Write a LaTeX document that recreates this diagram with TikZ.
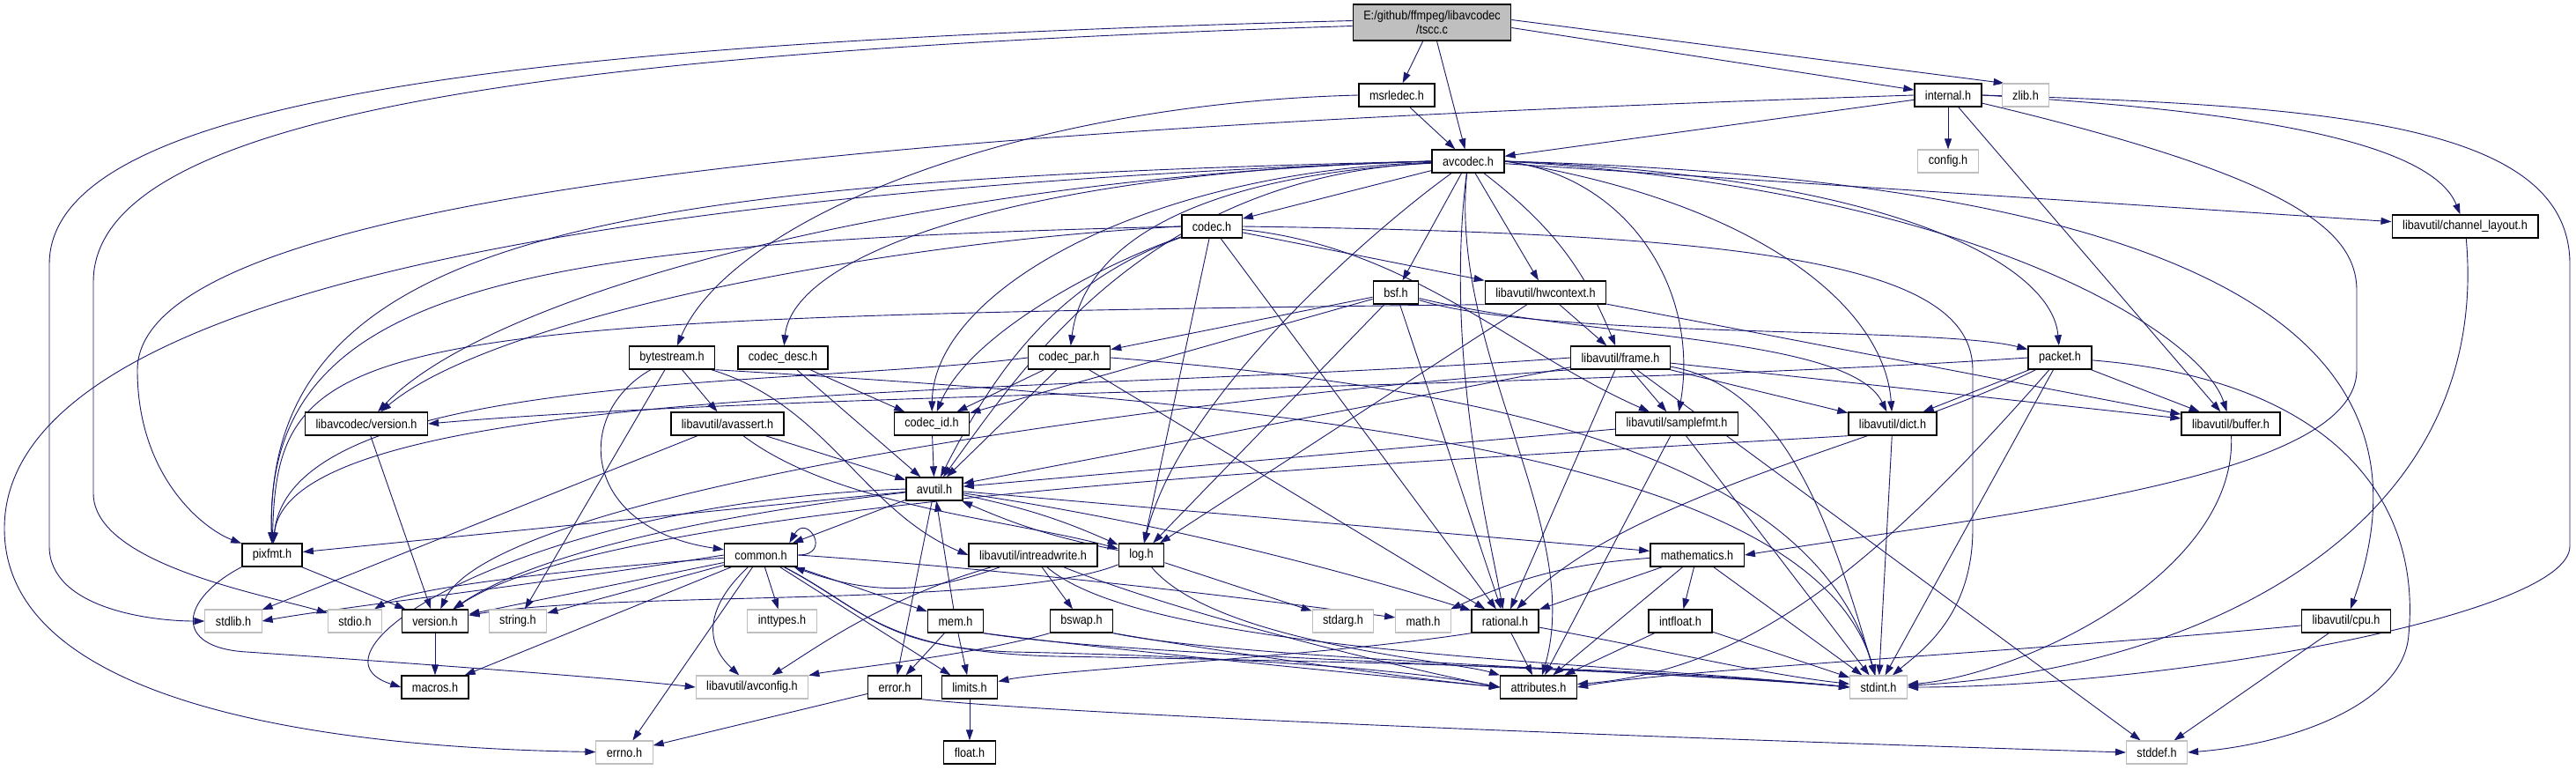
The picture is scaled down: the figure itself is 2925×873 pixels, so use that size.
\documentclass[tikz,border=0pt]{standalone}
\usepackage{fontspec}
\setmainfont{Liberation Sans}[FakeStretch=0.88]
\usetikzlibrary{arrows.meta}
\definecolor{edgeblue}{HTML}{191970}
\definecolor{boxgray}{HTML}{BFBFBF}
\pgfdeclarelayer{bg}
\pgfsetlayers{bg,main}

\begin{document}
\begin{tikzpicture}[
    >={Triangle[length=12pt, width=8pt]},
    x=1pt, y=-1pt,
    filebox/.style={
        draw=black,
        line width=1.4pt,
        fill=white,
        minimum height=26pt,
        inner xsep=12pt,
        inner ysep=0pt,
        font=\fontsize{14.4}{15}\selectfont
    },
    sysbox/.style={filebox, draw=boxgray, line width=1.1pt},
    rootbox/.style={filebox, fill=boxgray, align=center, minimum height=41pt, font=\fontsize{14.4}{16}\selectfont},
    dep/.style={->, draw=edgeblue, line width=0.9pt}
]

% Fitxer arrel
\node[rootbox] (tscc) at (1626,25.5) {E:/github/ffmpeg/libavcodec\\/tscc.c};

% Capçaleres
\node[filebox] (msrledec) at (1586,108) {msrledec.h};
\node[filebox] (internal) at (2212,108) {internal.h};
\node[sysbox] (zlib) at (2300,108) {zlib.h};
\node[filebox] (avcodec) at (1667,183) {avcodec.h};
\node[sysbox] (config) at (2212,183) {config.h};
\node[filebox] (codec) at (1376,257) {codec.h};
\node[filebox] (chlayout) at (2799,257) {libavutil/channel\_layout.h};
\node[filebox] (bsf) at (1585,332) {bsf.h};
\node[filebox] (hwcontext) at (1755,332) {libavutil/hwcontext.h};
\node[filebox] (bytestream) at (763,406) {bytestream.h};
\node[filebox] (codecdesc) at (889,406) {codec\_desc.h};
\node[filebox] (codecpar) at (1214,406) {codec\_par.h};
\node[filebox] (frame) at (1840,406) {libavutil/frame.h};
\node[filebox] (packet) at (2339,406) {packet.h};
\node[filebox] (lavcversion) at (416,481) {libavcodec/version.h};
\node[filebox] (avassert) at (826,481) {libavutil/avassert.h};
\node[filebox] (codecid) at (1058,481) {codec\_id.h};
\node[filebox] (samplefmt) at (1904,481) {libavutil/samplefmt.h};
\node[filebox] (dict) at (2149,481) {libavutil/dict.h};
\node[filebox] (buffer) at (2533,481) {libavutil/buffer.h};
\node[filebox] (avutil) at (1061,555) {avutil.h};
\node[filebox] (pixfmt) at (309,630) {pixfmt.h};
\node[filebox] (common) at (864,630) {common.h};
\node[filebox] (intreadwrite) at (1173,630) {libavutil/intreadwrite.h};
\node[filebox] (log) at (1296,630) {log.h};
\node[filebox] (mathematics) at (1927,630) {mathematics.h};
\node[sysbox] (stdlib) at (265,705) {stdlib.h};
\node[sysbox] (stdio) at (403,705) {stdio.h};
\node[filebox] (version) at (494,705) {version.h};
\node[sysbox] (string) at (588,705) {string.h};
\node[sysbox] (inttypes) at (888,705) {inttypes.h};
\node[filebox] (mem) at (1085,705) {mem.h};
\node[filebox] (bswap) at (1228,705) {bswap.h};
\node[sysbox] (stdarg) at (1525,705) {stdarg.h};
\node[sysbox] (math) at (1616,705) {math.h};
\node[filebox] (rational) at (1709,705) {rational.h};
\node[filebox] (intfloat) at (1908,705) {intfloat.h};
\node[filebox] (cpu) at (2664,705) {libavutil/cpu.h};
\node[filebox] (macros) at (494,780) {macros.h};
\node[sysbox] (avconfig) at (854,780) {libavutil/avconfig.h};
\node[filebox] (error) at (1016,780) {error.h};
\node[filebox] (limits) at (1101,780) {limits.h};
\node[filebox] (attributes) at (1747,780) {attributes.h};
\node[sysbox] (stdint) at (2133,780) {stdint.h};
\node[sysbox] (errno) at (709,854) {errno.h};
\node[filebox] (float) at (1101,854) {float.h};
\node[sysbox] (stddef) at (2449,854) {stddef.h};

\begin{pgfonlayer}{bg}
\fill[white, use as bounding box] (0,0) rectangle (2925,873);

% tscc.c
\draw[dep] ([yshift=2pt]tscc.west) .. controls (600,48) and (56,110) .. (56,300) -- (56,620) .. controls (56,690) and (170,705) .. (stdlib);
\draw[dep] ([yshift=-4pt]tscc.west) .. controls (650,58) and (106,125) .. (106,320) -- (106,560) .. controls (106,640) and (300,675) .. (stdio);
\draw[dep] (tscc) -- (msrledec);
\draw[dep] (tscc) -- (avcodec);
\draw[dep] ([yshift=-6pt]tscc.east) -- (internal);
\draw[dep] ([yshift=3pt]tscc.east) -- ([xshift=3pt]zlib.north west);

% msrledec.h
\draw[dep] (msrledec) -- (avcodec);
\draw[dep] (msrledec.west) .. controls (1150,118) and (830,250) .. (bytestream);

% internal.h
\draw[dep] (internal) -- (avcodec);
\draw[dep] (internal) -- (config);
\draw[dep] (internal.west) .. controls (1200,140) and (156,200) .. (156,420) .. controls (156,540) and (230,600) .. (pixfmt);
\draw[dep] (internal.east) .. controls (2550,125) and (2760,160) .. (chlayout);
\draw[dep] (internal.east) .. controls (2650,120) and (2918,140) .. (2918,300) -- (2918,620) .. controls (2918,700) and (2450,780) .. (stdint.east);
\draw[dep] (internal) -- (buffer);
\draw[dep] (internal) .. controls (2600,200) and (2676,260) .. (2676,330) -- (2676,420) .. controls (2676,540) and (2300,580) .. (mathematics.east);

% avcodec.h
\draw[dep] (avcodec) -- (codec);
\draw[dep] (avcodec) -- (bsf);
\draw[dep] (avcodec) -- (hwcontext);
\draw[dep] (avcodec) to[bend left=15] (frame);
\draw[dep] (avcodec.east) .. controls (2150,200) and (2330,300) .. (packet);
\draw[dep] (avcodec) -- (chlayout);
\draw[dep] (avcodec.east) .. controls (2250,215) and (2500,380) .. (buffer);
\draw[dep] (avcodec.east) .. controls (2500,205) and (2780,380) .. (cpu);
\draw[dep] (avcodec.east) .. controls (2000,230) and (2140,350) .. (dict);
\draw[dep] (avcodec.east) .. controls (1850,200) and (1930,330) .. (samplefmt);
\draw[dep] (avcodec) .. controls (1640,400) and (1690,600) .. (rational);
\draw[dep] (avcodec) .. controls (1645,400) and (1800,600) .. (attributes);
\draw[dep] (avcodec) .. controls (1560,260) and (1340,450) .. (log);
\draw[dep] (avcodec) .. controls (1300,200) and (1160,420) .. (avutil);
\draw[dep] (avcodec.west) .. controls (700,205) and (300,260) .. (pixfmt);
\draw[dep] (avcodec.west) .. controls (700,215) and (5,330) .. (5,600) .. controls (5,820) and (450,850) .. (errno);
\draw[dep] (avcodec) .. controls (1350,200) and (1230,280) .. (codecpar);
\draw[dep] (avcodec) .. controls (1300,195) and (1060,330) .. (codecid);
\draw[dep] (avcodec.west) .. controls (1150,195) and (900,290) .. (codecdesc);
\draw[dep] (avcodec.west) .. controls (1050,200) and (560,330) .. (lavcversion);

% codec.h
\draw[dep] (codec) -- (hwcontext);
\draw[dep] (codec) .. controls (1200,320) and (1130,420) .. (avutil);
\draw[dep] (codec) -- (log);
\draw[dep] (codec.west) .. controls (600,275) and (300,320) .. (pixfmt);
\draw[dep] (codec) -- (rational);
\draw[dep] (codec) .. controls (1600,280) and (1720,400) .. (samplefmt);
\draw[dep] (codec.east) .. controls (2000,265) and (2240,300) .. (2240,420) -- (2240,600) .. controls (2240,700) and (2180,740) .. (stdint);
\draw[dep] (codec) .. controls (1250,300) and (1100,380) .. (codecid);
\draw[dep] (codec.west) .. controls (1000,275) and (560,360) .. (lavcversion);

% bsf.h
\draw[dep] (bsf) .. controls (1800,385) and (2100,380) .. (dict);
\draw[dep] (bsf) -- (log);
\draw[dep] (bsf) -- (rational);
\draw[dep] (bsf) -- (codecid);
\draw[dep] (bsf) -- (codecpar);
\draw[dep] (bsf) .. controls (1750,385) and (2200,370) .. (packet);

% hwcontext.h
\draw[dep] (hwcontext) -- (buffer);
\draw[dep] (hwcontext) -- (frame);
\draw[dep] (hwcontext) -- (log);
\draw[dep] (hwcontext.south west) .. controls (400,360) and (315,380) .. (pixfmt);

% codec_par.h, codec_desc.h
\draw[dep] (codecpar.east) .. controls (1700,440) and (2060,520) .. (stdint);
\draw[dep] (codecpar) -- (avutil);
\draw[dep] (codecpar) -- (rational);
\draw[dep] (codecpar.west) .. controls (900,440) and (330,420) .. (pixfmt);
\draw[dep] (codecpar) -- (codecid);
\draw[dep] (codecdesc) -- (avutil);
\draw[dep] (codecdesc) -- (codecid);

% bytestream.h
\draw[dep] (bytestream.south east) .. controls (1500,460) and (2060,520) .. (stdint);
\draw[dep] (bytestream) -- (string);
\draw[dep] (bytestream) -- (avassert);
\draw[dep] (bytestream) .. controls (650,470) and (660,600) .. (common);
\draw[dep] (bytestream) .. controls (940,460) and (980,580) .. (intreadwrite.west);

% avassert.h, codec_id.h
\draw[dep] (avassert) -- (stdlib);
\draw[dep] (avassert) -- (avutil);
\draw[dep] (avassert) .. controls (950,575) and (1150,590) .. (log);
\draw[dep] (codecid) -- (avutil);

% frame.h
\draw[dep] (frame) -- (stddef);
\draw[dep] (frame) .. controls (2030,440) and (2080,600) .. (stdint);
\draw[dep] (frame) -- (avutil);
\draw[dep] (frame) -- (buffer);
\draw[dep] (frame) -- (dict);
\draw[dep] (frame) -- (rational);
\draw[dep] (frame) -- (samplefmt);
\draw[dep] (frame.west) .. controls (1200,450) and (330,430) .. (pixfmt);
\draw[dep] (frame.south west) .. controls (1300,455) and (560,560) .. (version);

% packet.h
\draw[dep] (packet) .. controls (2640,430) and (2750,560) .. (2735,720) .. controls (2730,800) and (2600,845) .. (stddef.east);
\draw[dep] (packet) -- (stdint);
\draw[dep] (packet) .. controls (2150,620) and (2000,760) .. (attributes);
\draw[dep] (packet) -- (buffer);
\draw[dep] (packet) -- (dict);
\draw[dep] (packet) .. controls (2150,500) and (1850,560) .. (rational);
\draw[dep] (packet.west) .. controls (1800,440) and (900,445) .. (lavcversion.east);

% fila central
\draw[dep] (lavcversion) -- (version);
\draw[dep] (samplefmt) -- (stdint);
\draw[dep] (samplefmt) -- (avutil);
\draw[dep] (samplefmt) -- (attributes);
\draw[dep] (dict) -- (stdint);
\draw[dep] (dict.south west) .. controls (1500,530) and (700,570) .. (version);
\draw[dep] (buffer) .. controls (2540,650) and (2300,765) .. (stdint);
\draw[dep] (chlayout) .. controls (2830,600) and (2500,760) .. (stdint);
\draw[dep] (cpu) -- (stddef);
\draw[dep] (cpu) .. controls (2300,740) and (1900,760) .. (attributes.east);

% avutil.h
\draw[dep] (avutil) -- (common);
\draw[dep] (avutil) -- (error);
\draw[dep] (avutil) .. controls (1300,590) and (1500,640) .. (rational);
\draw[dep] (avutil) .. controls (850,580) and (620,620) .. (version);
\draw[dep] (avutil.west) .. controls (600,570) and (330,740) .. (macros.west);
\draw[dep] (avutil) -- (mathematics);
\draw[dep] (avutil) to[bend left=6] (log);
\draw[dep] (avutil) -- (pixfmt);

% pixfmt.h
\draw[dep] (pixfmt.south west) .. controls (205,680) and (195,735) .. (280,740) .. controls (500,755) and (700,770) .. (avconfig.west);
\draw[dep] (pixfmt) -- (version);

% common.h
\draw[dep] (common) -- (errno);
\draw[dep] (common) -- (inttypes);
\draw[dep] (common) -- (limits);
\draw[dep] (common.east) .. controls (1200,650) and (1500,690) .. (math);
\draw[dep] (common) .. controls (980,690) and (1000,740) .. (1200,745) .. controls (1600,752) and (1900,760) .. (stdint.west);
\draw[dep] (common) .. controls (600,650) and (460,670) .. (stdio);
\draw[dep] (common.west) .. controls (600,665) and (380,690) .. (stdlib.east);
\draw[dep] (common) -- (string);
\draw[dep] (common) .. controls (980,690) and (1000,735) .. (1150,740) .. controls (1400,745) and (1600,760) .. (attributes.west);
\draw[dep] (common) -- (macros);
\draw[dep] (common) -- (version);
\draw[dep] (common) .. controls (800,690) and (800,730) .. (avconfig);
\draw[dep] (common) -- (mem);
\draw[dep] (common.east) to[out=0, in=60, looseness=6] ([xshift=-10pt]common.north east);

% intreadwrite.h, log.h
\draw[dep] (intreadwrite) .. controls (1300,740) and (1800,750) .. (stdint.west);
\draw[dep] (intreadwrite) .. controls (1000,680) and (920,740) .. (avconfig);
\draw[dep] (intreadwrite) .. controls (1350,700) and (1600,760) .. (attributes.west);
\draw[dep] (intreadwrite) -- (bswap);
\draw[dep] (intreadwrite) to[bend left=20] (common);
\draw[dep] (log) -- (stdarg);
\draw[dep] (log) to[bend left=6] (avutil);
\draw[dep] (log) .. controls (1380,730) and (1650,750) .. (attributes);
\draw[dep] (log) .. controls (1150,690) and (700,670) .. (version);

% mathematics.h
\draw[dep] (mathematics) -- (stdint);
\draw[dep] (mathematics) to[bend right=10] (math);
\draw[dep] (mathematics) -- (attributes);
\draw[dep] (mathematics) -- (rational);
\draw[dep] (mathematics) -- (intfloat);

% mem.h, bswap.h
\draw[dep] (mem) -- (limits);
\draw[dep] (mem.south east) .. controls (1300,748) and (1900,760) .. (stdint.west);
\draw[dep] (mem.south east) .. controls (1300,742) and (1600,770) .. (attributes.west);
\draw[dep] (mem) -- (error);
\draw[dep] (mem) -- (avutil);
\draw[dep] (bswap.south east) .. controls (1400,748) and (1900,762) .. (stdint.west);
\draw[dep] (bswap.south west) .. controls (1100,745) and (950,760) .. (avconfig);
\draw[dep] (bswap.south east) .. controls (1400,742) and (1600,770) .. (attributes.west);

% rational.h, intfloat.h
\draw[dep] (rational) .. controls (1900,740) and (2000,765) .. (stdint);
\draw[dep] (rational.south west) .. controls (1500,745) and (1200,760) .. (limits);
\draw[dep] (rational) -- (attributes);
\draw[dep] (intfloat) -- (stdint);
\draw[dep] (intfloat) -- (attributes);

% fulles
\draw[dep] (version) -- (macros);
\draw[dep] (error) -- (errno);
\draw[dep] (error.south east) .. controls (1200,810) and (1800,835) .. (stddef.west);
\draw[dep] (limits) -- (float);
\end{pgfonlayer}

\end{tikzpicture}
\end{document}
